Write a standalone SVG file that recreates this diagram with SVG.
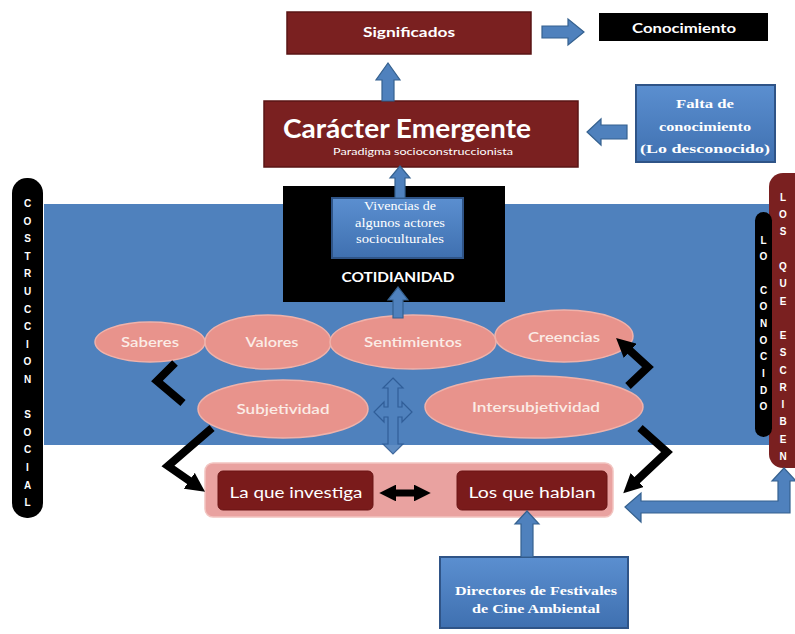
<svg xmlns="http://www.w3.org/2000/svg" width="795" height="634" viewBox="0 0 795 634">
<defs>
<style>
.maroon{fill:#7a2020;stroke:#5a1414;stroke-width:1.5}
.dk{fill:#7a1b1b;stroke:#6a1515;stroke-width:1}
.bluebox{fill:url(#bgrad);stroke:#2f5487;stroke-width:2}
.barrow{fill:#4f81bd;stroke:#35618f;stroke-width:1.2}
.pink{fill:#e8938c;stroke:#f0b2aa;stroke-width:1.5}
.chev{fill:none;stroke:#000;stroke-width:8;stroke-linejoin:miter}
.t{fill:#ffffff;font-family:Lato,"Open Sans",sans-serif;font-weight:700;text-anchor:middle}
.tr{fill:#ffffff;font-family:Lato,"Open Sans",sans-serif;font-weight:400;text-anchor:middle}
.el{fill:#fbece6;font-family:Lato,"Open Sans",sans-serif;font-weight:600;font-size:14px;text-anchor:middle}
.s{fill:#ffffff;font-family:"Liberation Serif",serif;font-weight:700;text-anchor:middle;font-size:13px}
.sr{fill:#ffffff;font-family:"Liberation Serif",serif;font-weight:400;text-anchor:middle;font-size:12px}
.v{fill:#ffffff;font-family:"Liberation Sans",sans-serif;font-weight:700;font-size:10px;text-anchor:middle}
</style>
<linearGradient id="bgrad" x1="0" y1="0" x2="0" y2="1">
<stop offset="0" stop-color="#5b8fd0"/>
<stop offset="1" stop-color="#3f70b0"/>
</linearGradient>
<marker id="ah" viewBox="0 0 10 10" refX="3" refY="5" markerWidth="2.4" markerHeight="2.4" orient="auto-start-reverse" markerUnits="strokeWidth">
<path d="M0,0 L10,5 L0,10 z" fill="#000"/>
</marker>
</defs>

<rect width="795" height="634" fill="#ffffff"/>

<g id="band">
<rect x="44" y="204" width="732" height="241" fill="#4f81bd"/>
</g>

<g id="construccion-social">
<rect x="12" y="178" width="31" height="340" rx="15" fill="#000"/>
<text class="v">
<tspan x="27.5" y="207">C</tspan><tspan x="27.5" y="224.6">O</tspan><tspan x="27.5" y="242.2">S</tspan><tspan x="27.5" y="259.8">T</tspan><tspan x="27.5" y="277.4">R</tspan><tspan x="27.5" y="295">U</tspan><tspan x="27.5" y="312.6">C</tspan><tspan x="27.5" y="330.2">C</tspan><tspan x="27.5" y="347.8">I</tspan><tspan x="27.5" y="365.4">O</tspan><tspan x="27.5" y="383">N</tspan><tspan x="27.5" y="418.2">S</tspan><tspan x="27.5" y="435.8">O</tspan><tspan x="27.5" y="453.4">C</tspan><tspan x="27.5" y="471">I</tspan><tspan x="27.5" y="488.6">A</tspan><tspan x="27.5" y="506.2">L</tspan>
</text>
</g>

<g id="los-que-escriben">
<rect x="769" y="173" width="40" height="295" rx="14" fill="#7a2020"/>
<text class="v">
<tspan x="783" y="201">L</tspan><tspan x="783" y="218">O</tspan><tspan x="783" y="235">S</tspan><tspan x="783" y="270">Q</tspan><tspan x="783" y="287">U</tspan><tspan x="783" y="305">E</tspan><tspan x="783" y="339">E</tspan><tspan x="783" y="356">S</tspan><tspan x="783" y="374">C</tspan><tspan x="783" y="391">R</tspan><tspan x="783" y="408">I</tspan><tspan x="783" y="425">B</tspan><tspan x="783" y="443">E</tspan><tspan x="783" y="460">N</tspan>
</text>
</g>

<g id="lo-conocido">
<rect x="755" y="212" width="17" height="225" rx="8.5" fill="#000"/>
<text class="v">
<tspan x="763.5" y="244">L</tspan><tspan x="763.5" y="260">O</tspan><tspan x="763.5" y="294">C</tspan><tspan x="763.5" y="310">O</tspan><tspan x="763.5" y="327">N</tspan><tspan x="763.5" y="344">O</tspan><tspan x="763.5" y="360">C</tspan><tspan x="763.5" y="377">I</tspan><tspan x="763.5" y="394">D</tspan><tspan x="763.5" y="410">O</tspan>
</text>
</g>

<g id="significados">
<rect class="maroon" x="287" y="12" width="244" height="42"/>
<text class="t" x="409" y="37" font-size="14" textLength="92" lengthAdjust="spacingAndGlyphs">Significados</text>
</g>

<g id="conocimiento">
<rect x="599" y="13" width="169" height="28" fill="#000"/>
<text class="t" x="684" y="33" font-size="14" textLength="104" lengthAdjust="spacingAndGlyphs">Conocimiento</text>
</g>

<g id="caracter-emergente">
<rect class="maroon" x="264" y="101" width="314" height="66"/>
<text class="t" x="407" y="138" font-size="26" textLength="248" lengthAdjust="spacingAndGlyphs">Carácter Emergente</text>
<text class="tr" x="423" y="155" font-size="9.5" textLength="180" lengthAdjust="spacingAndGlyphs">Paradigma socioconstruccionista</text>
</g>

<g id="falta-de-conocimiento">
<rect class="bluebox" x="636" y="85" width="139" height="77"/>
<text class="s" x="705" y="108" textLength="58" lengthAdjust="spacingAndGlyphs">Falta de</text>
<text class="s" x="705" y="131" textLength="92" lengthAdjust="spacingAndGlyphs">conocimiento</text>
<text class="s" x="705" y="153" textLength="130" lengthAdjust="spacingAndGlyphs">(Lo desconocido)</text>
</g>

<g id="cotidianidad">
<rect x="283" y="186" width="222" height="116" fill="#000"/>
<text class="t" x="398" y="282" font-size="13" textLength="113" lengthAdjust="spacingAndGlyphs">COTIDIANIDAD</text>
</g>

<g id="vivencias">
<rect class="bluebox" x="332" y="198" width="131" height="60"/>
<text class="sr" x="400" y="210" textLength="72" lengthAdjust="spacingAndGlyphs">Vivencias de</text>
<text class="sr" x="400" y="227" textLength="90" lengthAdjust="spacingAndGlyphs">algunos actores</text>
<text class="sr" x="400" y="243" textLength="88" lengthAdjust="spacingAndGlyphs">socioculturales</text>
</g>

<g id="saberes">
<ellipse class="pink" cx="150" cy="342" rx="55" ry="20"/>
<text class="el" x="150" y="347" textLength="58" lengthAdjust="spacingAndGlyphs">Saberes</text>
</g>
<g id="valores">
<ellipse class="pink" cx="268" cy="342" rx="63" ry="27"/>
<text class="el" x="272" y="347" textLength="53" lengthAdjust="spacingAndGlyphs">Valores</text>
</g>
<g id="sentimientos">
<ellipse class="pink" cx="413" cy="342" rx="83" ry="27"/>
<text class="el" x="413" y="347" textLength="98" lengthAdjust="spacingAndGlyphs">Sentimientos</text>
</g>
<g id="creencias">
<ellipse class="pink" cx="564" cy="336" rx="69" ry="26"/>
<text class="el" x="564" y="342" textLength="72" lengthAdjust="spacingAndGlyphs">Creencias</text>
</g>
<g id="subjetividad">
<ellipse class="pink" cx="283" cy="409" rx="85" ry="29"/>
<text class="el" x="283" y="414" textLength="93" lengthAdjust="spacingAndGlyphs">Subjetividad</text>
</g>
<g id="intersubjetividad">
<ellipse class="pink" cx="534" cy="407" rx="109" ry="31"/>
<text class="el" x="536" y="412" textLength="128" lengthAdjust="spacingAndGlyphs">Intersubjetividad</text>
</g>

<g id="actores-container">
<rect x="205" y="463" width="408" height="54" rx="8" fill="#e9a2a0" stroke="#f2c4c0" stroke-width="1.5"/>
</g>
<g id="la-que-investiga">
<rect class="dk" x="218" y="471" width="155" height="39" rx="5"/>
<text class="tr" x="296" y="498" font-size="16" textLength="133" lengthAdjust="spacingAndGlyphs">La que investiga</text>
</g>
<g id="los-que-hablan">
<rect class="dk" x="457" y="471" width="150" height="39" rx="5"/>
<text class="tr" x="532" y="498" font-size="16" textLength="127" lengthAdjust="spacingAndGlyphs">Los que hablan</text>
</g>

<g id="directores">
<rect class="bluebox" x="440" y="557" width="188" height="71"/>
<text class="s" x="536" y="595" textLength="162" lengthAdjust="spacingAndGlyphs">Directores de Festivales</text>
<text class="s" x="536" y="613" textLength="128" lengthAdjust="spacingAndGlyphs">de Cine Ambiental</text>
</g>

<g id="connectors">
<polygon class="barrow" points="542,26 568,26 568,19 584,32 568,45 568,38 542,38"/>
<polygon class="barrow" points="382,101 382,80 376,80 388,63 400,80 394,80 394,101"/>
<polygon class="barrow" points="627,125 601,125 601,119 587,132 601,145 601,139 627,139"/>
<polygon class="barrow" points="395,198 395,178 390,178 400,166 410,178 405,178 405,198"/>
<polygon class="barrow" points="393,318 393,300 388,300 398,287 408,300 403,300 403,318"/>
<polygon class="barrow" points="521,557 521,524 515,524 527,511 539,524 533,524 533,557"/>
<polygon class="barrow" points="625,507 641,493 641,501 778,501 778,481 772,481 784,468 796,481 790,481 790,513 641,513 641,522"/>
<polygon fill="#4f81bd" stroke="#2d5a94" stroke-width="1.2" opacity="0.9" points="393,378 403,388 398,388 398,407 402,407 402,402 412,412 402,422 402,417 398,417 398,444 403,444 393,454 383,444 388,444 388,417 384,417 384,422 374,412 384,402 384,407 388,407 388,388 383,388"/>
<polyline class="chev" points="175,363 157,381 183,403"/>
<polyline class="chev" points="212,428 168,466 194,484" marker-end="url(#ah)"/>
<polyline class="chev" points="628,386 648,367 626,347" marker-end="url(#ah)"/>
<polyline class="chev" points="640,428 667,452 633,484" marker-end="url(#ah)"/>
<line x1="391" y1="493" x2="419" y2="493" stroke="#000" stroke-width="7" marker-start="url(#ah)" marker-end="url(#ah)"/>
</g>
</svg>
